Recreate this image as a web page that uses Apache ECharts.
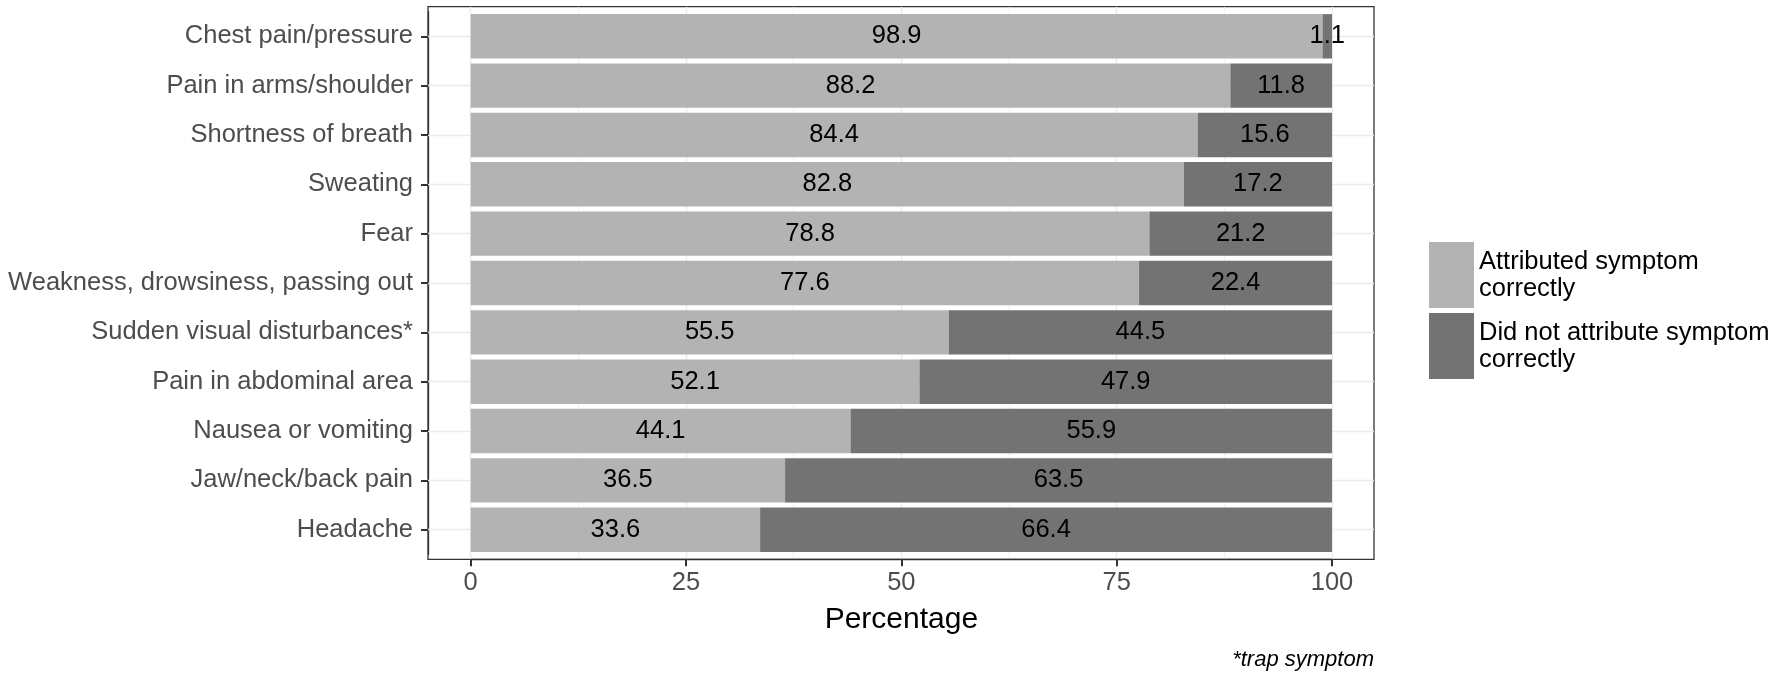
<!DOCTYPE html>
<html>
<head>
<meta charset="utf-8">
<script src="https://cdn.jsdelivr.net/npm/echarts@6/dist/echarts.min.js"></script>
<style>
html,body{margin:0;padding:0;background:#fff;}
#chart{width:1772px;height:682px;}
</style>
</head>
<body>
<div id="chart"></div>
<script>
const categories = [
  "Chest pain/pressure",
  "Pain in arms/shoulder",
  "Shortness of breath",
  "Sweating",
  "Fear",
  "Weakness, drowsiness, passing out",
  "Sudden visual disturbances*",
  "Pain in abdominal area",
  "Nausea or vomiting",
  "Jaw/neck/back pain",
  "Headache"
];
const correct   = [98.9, 88.2, 84.4, 82.8, 78.8, 77.6, 55.5, 52.1, 44.1, 36.5, 33.6];
const incorrect = [1.1, 11.8, 15.6, 17.2, 21.2, 22.4, 44.5, 47.9, 55.9, 63.5, 66.4];
const seriesNames = ["Attributed symptom correctly", "Did not attribute symptom correctly"];
const legendLabels = ["Attributed symptom\ncorrectly", "Did not attribute symptom\ncorrectly"];
const xTicks = [0, 25, 50, 75, 100];
const xTitle = "Percentage";
const caption = "*trap symptom";

const FONT = "'Liberation Sans', Arial, sans-serif";
const chart = echarts.init(document.getElementById('chart'), null, {renderer: 'canvas'});

// layout (pixels)
const panelLeft = 428, panelRight = 1374, panelTop = 6.7, panelBottom = 559.3;
const panelH = panelBottom - panelTop;
const catStep = panelH / (categories.length + 0.2);
const barTop = panelTop + 0.1 * catStep, barH = catStep * categories.length;
const x0 = 470.7, x100 = 1332;

const option = {
  animation: false,
  backgroundColor: '#ffffff',
  textStyle: {fontFamily: FONT},
  grid: [
    {left: panelLeft, top: panelTop, width: panelRight - panelLeft, height: panelH,
     show: true, backgroundColor: '#ffffff', borderColor: '#333333', borderWidth: 1.3, outerBoundsMode: 'none'},
    {left: panelLeft, top: barTop, width: panelRight - panelLeft, height: barH, outerBoundsMode: 'none'},
    {left: x0, top: panelTop, width: x100 - x0, height: panelH, outerBoundsMode: 'none'},
    {left: x0, top: barTop, width: x100 - x0, height: barH, outerBoundsMode: 'none'}
  ],
  xAxis: [
    {gridIndex: 0, type: 'value', min: -5, max: 105, show: false},
    {gridIndex: 1, type: 'value', min: -5, max: 105, show: false},
    {gridIndex: 2, type: 'value', position: 'bottom', min: xTicks[0], max: xTicks[xTicks.length - 1], interval: xTicks[1] - xTicks[0],
     name: xTitle, nameLocation: 'middle', nameGap: 45,
     nameTextStyle: {color: '#000000', fontSize: 30, fontFamily: FONT},
     axisLine: {show: true, onZero: false, lineStyle: {color: '#333333', width: 1.3}},
     axisTick: {show: true, inside: false, length: 7, lineStyle: {color: '#333333', width: 2}},
     axisLabel: {color: '#4d4d4d', fontSize: 25.5, margin: 11, fontFamily: FONT},
     splitLine: {show: true, lineStyle: {color: '#ebebeb', width: 1.4}},
     minorTick: {show: false, splitNumber: 2},
     minorSplitLine: {show: true, lineStyle: {color: '#ebebeb', width: 0.7}}},
    {gridIndex: 3, type: 'value', min: 0, max: 100, show: false}
  ],
  yAxis: [
    {gridIndex: 0, type: 'value', show: false},
    {gridIndex: 1, type: 'category', position: 'left', data: categories, inverse: true,
     axisLine: {show: true, onZero: false, lineStyle: {color: '#333333', width: 1.3}},
     axisTick: {show: true, inside: false, alignWithLabel: true, length: 7, lineStyle: {color: '#333333', width: 2}},
     axisLabel: {color: '#4d4d4d', fontSize: 25.5, margin: 15, fontFamily: FONT},
     splitLine: {show: false}},
    {gridIndex: 2, type: 'value', show: false, min: 0, max: 1},
    {gridIndex: 3, type: 'category', data: categories, inverse: true, show: false}
  ],
  legend: {
    orient: 'vertical', left: 1424, top: 237,
    itemWidth: 45, itemHeight: 66, itemGap: 5, icon: 'rect',
    data: seriesNames,
    formatter: function (name) { return legendLabels[seriesNames.indexOf(name)]; },
    textStyle: {color: '#000000', fontSize: 25.5, lineHeight: 27, fontFamily: FONT}
  },
  graphic: [
    {type: 'text', right: 1772 - panelRight, top: 649,
     style: {text: caption, fill: '#000000', font: 'italic 22px ' + FONT}}
  ],
  series: [
    {type: 'line', xAxisIndex: 1, yAxisIndex: 1, data: [], silent: true,
     markLine: {silent: true, symbol: 'none', z: 1, label: {show: false},
       lineStyle: {color: '#ebebeb', width: 1.4, type: 'solid'},
       data: categories.map(function (c, i) { return {yAxis: i}; })}},
    {name: seriesNames[0], type: 'bar', stack: 'total', xAxisIndex: 3, yAxisIndex: 3,
     data: correct, barCategoryGap: '10%', z: 3,
     itemStyle: {color: '#b3b3b3'},
     label: {show: true, position: 'inside', color: '#000000', fontSize: 25.5, fontFamily: FONT,
       formatter: function (p) { return p.value.toFixed(1); }}},
    {name: seriesNames[1], type: 'bar', stack: 'total', xAxisIndex: 3, yAxisIndex: 3,
     data: incorrect, barCategoryGap: '10%', z: 3,
     itemStyle: {color: '#737373'},
     label: {show: true, position: 'inside', color: '#000000', fontSize: 25.5, fontFamily: FONT,
       formatter: function (p) { return p.value.toFixed(1); }}}
  ]
};
chart.setOption(option);
</script>
</body>
</html>
